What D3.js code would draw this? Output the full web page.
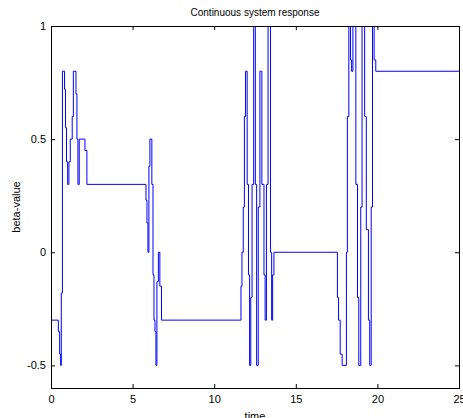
<!DOCTYPE html>
<html>
<head>
<meta charset="utf-8">
<script src="https://cdn.jsdelivr.net/npm/d3@7"></script>
<style>
  body { margin: 0; background: #fff; }
  svg { font-family: "Liberation Sans", Arial, sans-serif; }
  .tick text { font-size: 11px; fill: #000; }
  .tick line, .domain { stroke: #000; }
</style>
</head>
<body>
<div id="cnv"></div>
<script>
// step response samples: value holds from times[i] until times[i+1]
var times = [0, 0.45, 0.53, 0.59, 0.63, 0.70, 0.83, 0.89, 0.95, 1.02, 1.10, 1.18, 1.30, 1.37, 1.53, 1.59, 1.65, 1.73, 2.08, 2.20,
  5.82, 5.88, 5.94, 6.00, 6.06, 6.18, 6.25, 6.31, 6.37, 6.43, 6.49, 6.58, 6.67, 6.77,
  11.64, 11.70, 11.78, 11.85, 11.92, 12.02, 12.10, 12.17, 12.24, 12.32, 12.42, 12.52, 12.60, 12.70, 12.80, 12.92, 13.05, 13.12, 13.20, 13.30, 13.45, 13.52, 13.58, 13.66,
  17.55, 17.62, 17.72, 17.84, 18.10, 18.16, 18.25, 18.35, 18.42, 18.50, 18.68, 18.78, 18.86, 18.98, 19.06, 19.22, 19.32, 19.45, 19.53, 19.62, 19.70, 19.80, 19.90, 25];
var betas = [-0.3, -0.35, -0.45, -0.5, -0.18, 0.8, 0.72, 0.55, 0.4, 0.3, 0.4, 0.5, 0.6, 0.8, 0.7, 0.5, 0.3, 0.5, 0.45, 0.3,
  0.23, 0.13, 0.0, 0.38, 0.5, 0.3, -0.1, -0.3, -0.35, -0.5, -0.13, 0.0, -0.15, -0.3,
  -0.15, 0.0, 0.2, 0.6, 0.8, 0.3, -0.1, -0.5, -0.2, 0.3, 1.0, 0.3, -0.5, 0.2, 0.8, 0.3, -0.1, -0.3, 0.3, 1.0, 0.0, -0.3, -0.1, 0.0,
  -0.2, -0.3, -0.45, -0.5, 0.0, 0.6, 1.0, 0.85, 0.8, 1.0, 0.3, -0.2, -0.5, 0.2, 1.0, 0.6, 0.1, -0.3, -0.5, 0.2, 1.0, 0.85, 0.8, 0.8];
var xTicks = [0, 5, 10, 15, 20, 25];
var yTicks = [-0.5, 0, 0.5, 1];

var width = 463, height = 418;
var margin = {top: 26, right: 4, bottom: 30, left: 51},
    graphWidth = width - margin.left - margin.right,
    graphHeight = height - margin.top - margin.bottom;

var svg = d3.select("#cnv").append("svg")
  .attr("width", width)
  .attr("height", height);

var g = svg.append("g")
  .attr("transform", "translate(" + margin.left + "," + margin.top + ")");

var xScale = d3.scaleLinear().domain([0, 25]).range([0, graphWidth]);
var yScale = d3.scaleLinear().domain([-0.6, 1]).range([graphHeight, 0]);

var data = times.map(function(t, i) { return {t: t, v: betas[i]}; });

g.append("clipPath").attr("id", "clip")
  .append("rect")
  .attr("width", graphWidth)
  .attr("height", graphHeight);

var line = d3.line()
  .x(function(d) { return xScale(d.t); })
  .y(function(d) { return yScale(d.v); })
  .curve(d3.curveStepAfter);

g.append("path")
  .datum(data)
  .attr("clip-path", "url(#clip)")
  .attr("fill", "none")
  .attr("stroke", "#0000ff")
  .attr("stroke-width", 1)
  .attr("d", line);

// axes, ticks pointing inward like matlab
g.append("g")
  .attr("transform", "translate(0," + graphHeight + ")")
  .call(d3.axisBottom(xScale).tickValues(xTicks).tickSize(-4).tickSizeOuter(0).tickPadding(7)
    .tickFormat(function(d) { return String(d); }));
g.append("g")
  .call(d3.axisTop(xScale).tickValues(xTicks).tickSize(-4).tickSizeOuter(0).tickFormat(""));
g.append("g")
  .call(d3.axisLeft(yScale).tickValues(yTicks).tickSize(-4).tickSizeOuter(0).tickPadding(5)
    .tickFormat(function(d) { return String(d); }));
g.append("g")
  .attr("transform", "translate(" + graphWidth + ",0)")
  .call(d3.axisRight(yScale).tickValues(yTicks).tickSize(-4).tickSizeOuter(0).tickFormat(""));

g.selectAll(".domain").remove();
g.append("rect")
  .attr("width", graphWidth)
  .attr("height", graphHeight)
  .attr("fill", "none")
  .attr("stroke", "#000")
  .attr("shape-rendering", "crispEdges");

// labels
svg.append("text")
  .attr("x", margin.left + graphWidth / 2)
  .attr("y", 16)
  .attr("text-anchor", "middle")
  .style("font-size", "10px")
  .text("Continuous system response");
svg.append("text")
  .attr("x", margin.left + graphWidth / 2)
  .attr("y", 420)
  .attr("text-anchor", "middle")
  .style("font-size", "11px")
  .text("time");
svg.append("text")
  .attr("text-anchor", "middle")
  .attr("transform", "translate(20," + (margin.top + graphHeight / 2) + "), rotate(-90)")
  .style("font-size", "11px")
  .text("beta-value");
</script>
</body>
</html>
